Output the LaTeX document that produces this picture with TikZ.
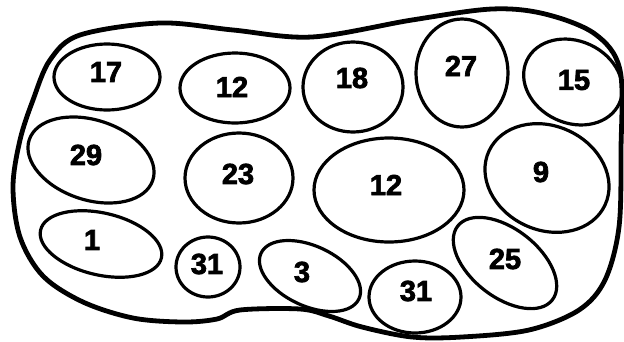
\documentclass[tikz,border=0pt]{standalone}
\usepackage{fontspec}
\setmainfont{Liberation Sans}[BoldFeatures={FakeBold=2.5}]
\begin{document}
\begin{tikzpicture}[x=1pt,y=-1pt,
  cell/.style={line width=3.2pt},
  lbl/.style={font=\fontsize{29}{29}\selectfont\bfseries, inner sep=0pt},
  blob/.style={line width=4.8pt}]
\useasboundingbox (0,0) rectangle (624,341);
\draw[blob] plot[smooth cycle, tension=0.55] coordinates {
 (13,187) (20,140) (33,100) (50,60) (80,35) (160,23) (233,30) (312,37) (412,20)
 (492,9) (545,14) (595,34) (620,70) (621,150) (619,227) (605,280) (579,310)
 (529,330) (462,337) (412,337) (362,327) (329,316) (300,309) (240,310) (217,319)
 (183,322) (133,318) (83,302) (43,276) (20,237)};
% ellipses
\draw[cell] (107,77) ellipse [x radius=53pt, y radius=33pt];
\node[lbl] (n17) at (106,72) {17};
\draw[cell] (235,88) ellipse [x radius=55pt, y radius=35pt];
\node[lbl] (n12a) at (232,87) {12};
\draw[cell] (353,87) ellipse [x radius=50pt, y radius=45pt];
\node[lbl] (n18) at (352,78) {18};
\draw[cell] (462,73) ellipse [x radius=46pt, y radius=54pt];
\node[lbl] (n27) at (461,66) {27};
\draw[cell, rotate around={-25:(573,82)}] (573,82) ellipse [x radius=51pt, y radius=41pt];
\node[lbl] (n15) at (574,80) {15};
\draw[cell, rotate around={-18:(91,160)}] (91,160) ellipse [x radius=65pt, y radius=40pt];
\node[lbl] (n29) at (86,155) {29};
\draw[cell] (239,178) ellipse [x radius=54pt, y radius=45pt];
\node[lbl] (n23) at (238,174) {23};
\draw[cell] (389,190) ellipse [x radius=75pt, y radius=52pt];
\node[lbl] (n12b) at (386,185) {12};
\draw[cell, rotate around={-25:(547,178)}] (547,178) ellipse [x radius=64pt, y radius=52pt];
\node[lbl] (n9) at (541,172) {9};
\draw[cell, rotate around={-13:(101,244)}] (101,244) ellipse [x radius=62pt, y radius=31pt];
\node[lbl] (n1) at (92,240) {1};
\draw[cell] (208,267) ellipse [x radius=32pt, y radius=30pt];
\node[lbl] (n31a) at (207,264) {31};
\draw[cell, rotate around={-25:(310,276)}] (310,276) ellipse [x radius=54pt, y radius=30pt];
\node[lbl] (n3) at (302,272) {3};
\draw[cell] (415,297) ellipse [x radius=46pt, y radius=36pt];
\node[lbl] (n31b) at (416,291) {31};
\draw[cell, rotate around={-38:(505,263)}] (505,263) ellipse [x radius=60pt, y radius=34pt];
\node[lbl] (n25) at (505,259) {25};
\end{tikzpicture}
\end{document}
